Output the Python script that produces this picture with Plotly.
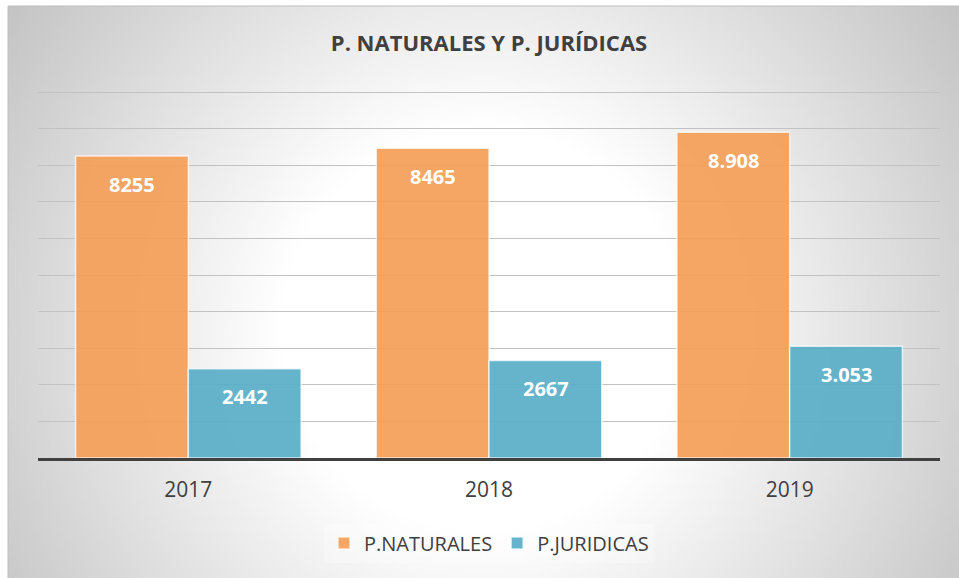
import zlib, struct, base64, math
import plotly.graph_objects as go

# ---- data ----
years = ["2017", "2018", "2019"]
naturales = [8255, 8465, 8908]
juridicas = [2442, 2667, 3053]
naturales_labels = ["8255", "8465", "8.908"]
juridicas_labels = ["2442", "2667", "3.053"]
series_names = ["P.NATURALES", "P.JURIDICAS"]
title_text = "P. NATURALES Y P. JURÍDICAS"

ORANGE = "rgba(244,158,88,0.92)"
BLUE = "rgba(88,174,200,0.92)"
TXT = "#404040"
FONT = "Open Sans"

W_PX, H_PX = 959, 578
L, R, T, B = 38, 19, 90, 120
PW, PH = W_PX - L - R, H_PX - T - B
Y_MAX = 10060

# ---- radial gradient background as PNG ----
def make_png(w, h):
    cx, cy = 483, 330
    x0, y0, x1, y1 = 8, 6, 959, 578
    rows = b""
    for j in range(h):
        row = bytearray([0])
        py = y0 + (j + 0.5) * (y1 - y0) / h
        for i in range(w):
            px = x0 + (i + 0.5) * (x1 - x0) / w
            r = math.hypot(px - cx, py - cy)
            v = 255 - 0.159 * max(0.0, r - 205)
            v = int(max(190, min(255, v)))
            row.append(v)
        rows += bytes(row)
    def chunk(t, d):
        c = struct.pack(">I", len(d)) + t + d
        return c + struct.pack(">I", zlib.crc32(t + d) & 0xffffffff)
    png = b"\x89PNG\r\n\x1a\n"
    png += chunk(b"IHDR", struct.pack(">IIBBBBB", w, h, 8, 0, 0, 0, 0))
    png += chunk(b"IDAT", zlib.compress(rows, 9))
    png += chunk(b"IEND", b"")
    return "data:image/png;base64," + base64.b64encode(png).decode()

img = make_png(240, 144)

def px_to_paper_x(px):
    return (px - L) / PW

def px_to_paper_y(py):
    return (H_PX - B - py) / PH

fig = go.Figure()
fig.add_trace(go.Bar(
    x=years, y=naturales, name=series_names[0],
    marker=dict(color=ORANGE, line=dict(color="rgba(255,255,255,0.7)", width=1.5)),
))
fig.add_trace(go.Bar(
    x=years, y=juridicas, name=series_names[1],
    marker=dict(color=BLUE, line=dict(color="rgba(255,255,255,0.7)", width=1.5)),
))

annotations = []
for idx, (v, lab) in enumerate(zip(naturales, naturales_labels)):
    annotations.append(dict(x=idx, y=v, text="<b>" + lab + "</b>", showarrow=False,
                            xref="x", yref="y", xshift=-56.5, yshift=-28, yanchor="middle",
                            font=dict(family=FONT, size=20, color="white")))
for idx, (v, lab) in enumerate(zip(juridicas, juridicas_labels)):
    annotations.append(dict(x=idx, y=v, text="<b>" + lab + "</b>", showarrow=False,
                            xref="x", yref="y", xshift=56.5, yshift=-28, yanchor="middle",
                            font=dict(family=FONT, size=20, color="white")))

fig.update_layout(
    width=W_PX, height=H_PX,
    margin=dict(l=L, r=R, t=T, b=B, autoexpand=False),
    paper_bgcolor="white",
    plot_bgcolor="rgba(0,0,0,0)",
    barmode="group", bargap=0.25, bargroupgap=0,
    title=dict(text="<b>" + title_text + "</b>", x=0.5, xref="paper", xanchor="center",
               y=1 - 43 / H_PX, yref="container", yanchor="middle",
               font=dict(family=FONT, size=22, color=TXT)),
    font=dict(family=FONT, color=TXT),
    showlegend=True,
    legend=dict(orientation="h", x=0.5, xanchor="center", y=px_to_paper_y(543), yanchor="middle",
                font=dict(family=FONT, size=20, color=TXT), bgcolor="rgba(255,255,255,0.25)"),
    annotations=annotations,
    images=[dict(source=img, xref="paper", yref="paper",
                 x=px_to_paper_x(8), y=px_to_paper_y(6),
                 sizex=(W_PX - 8) / PW, sizey=(H_PX - 6) / PH,
                 sizing="stretch", xanchor="left", yanchor="top", layer="below")],
    shapes=[dict(type="rect", xref="paper", yref="paper",
                 x0=px_to_paper_x(8), y0=px_to_paper_y(H_PX + 2),
                 x1=px_to_paper_x(W_PX + 2), y1=px_to_paper_y(6),
                 line=dict(color="#bdbdbd", width=1), layer="below")],
)
fig.update_xaxes(type="category", range=[-0.5, len(years) - 0.5], autorange=False,
                 showline=True, linecolor="#404040", linewidth=3, showgrid=False,
                 ticks="outside", ticklen=11, tickcolor="rgba(0,0,0,0)",
                 tickfont=dict(family=FONT, size=21, color=TXT))
fig.update_yaxes(range=[0, Y_MAX], autorange=False, tick0=0, dtick=1000, showticklabels=False,
                 showgrid=True, gridcolor="#c2c2c2", gridwidth=1, zeroline=False, showline=False)

fig.write_html("out.html", config={"displayModeBar": False},
               post_script="document.body.style.margin='0px';document.body.style.padding='0px';")
